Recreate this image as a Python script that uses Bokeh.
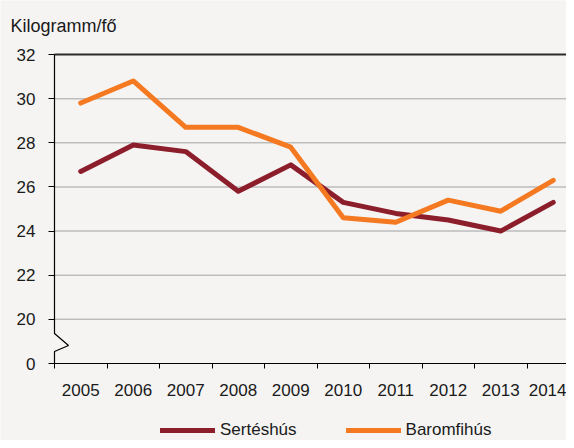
from bokeh.plotting import figure
from bokeh.models import (Range1d, FixedTicker, Label, Legend, LegendItem,
                          ColumnDataSource)
from bokeh.embed import file_html
from bokeh.resources import INLINE

years = ["2005", "2006", "2007", "2008", "2009", "2010", "2011", "2012", "2013", "2014"]
sertes = [26.7, 27.9, 27.6, 25.8, 27.0, 25.3, 24.8, 24.5, 24.0, 25.3]
baromfi = [29.8, 30.8, 28.7, 28.7, 27.8, 24.6, 24.4, 25.4, 24.9, 26.3]
y_ticks = [18, 20, 22, 24, 26, 28, 30, 32]
y_tick_labels = ["0", "20", "22", "24", "26", "28", "30", "32"]
y_title = "Kilogramm/fő"
series_names = ["Sertéshús", "Baromfihús"]

BG = "#f5f4f2"
FONT = "Liberation Sans"
DARK = "#8c1d2b"
ORANGE = "#f47920"

# layout in pixels (figure-relative)
W, H = 566, 440
LEFT, TOP, AXIS_PX = 54, 54, 363
PX_PER_CAT = 52.5
Y_MIN_SHOWN, Y_MAX = 18, 32
py = (AXIS_PX - TOP) / (Y_MAX - Y_MIN_SHOWN)

X_END = (W - LEFT) / PX_PER_CAT
x_start = -LEFT / PX_PER_CAT
y_top = Y_MAX + TOP / py
y_bot = Y_MIN_SHOWN - (H - AXIS_PX) / py

def dx(px):
    return (px - LEFT) / PX_PER_CAT

def dy(px):
    return Y_MAX - (px - TOP) / py

xpos = [i + 0.5 for i in range(len(years))]
src = ColumnDataSource(dict(x=xpos, s=sertes, b=baromfi))

p = figure(width=W, height=H, output_backend="svg", toolbar_location=None,
           x_range=Range1d(x_start, X_END), y_range=Range1d(y_bot, y_top),
           min_border=0, min_border_left=0, min_border_right=0,
           min_border_top=0, min_border_bottom=0,
           background_fill_color=BG, border_fill_color=BG,
           outline_line_color=None)

p.xgrid.visible = False
p.ygrid.visible = False

# horizontal grid lines (only over the plot area) and dark top line
grid_vals = [t for t in y_ticks if Y_MIN_SHOWN < t < Y_MAX]
p.segment(x0=[0] * len(grid_vals), x1=[X_END] * len(grid_vals),
          y0=grid_vals, y1=grid_vals, line_color="#bdbdbd", line_width=1.5)
p.segment(x0=[0], x1=[X_END], y0=[Y_MAX], y1=[Y_MAX],
          line_color="#2b2b2b", line_width=2)

# x axis at the broken zero
xa = p.xaxis[0]
xa.fixed_location = Y_MIN_SHOWN
xa.bounds = (0, X_END)
xa.ticker = FixedTicker(ticks=xpos, minor_ticks=list(range(len(years))))
xa.major_label_overrides = {x: y for x, y in zip(xpos, years)}
xa.major_tick_out = 0
xa.major_tick_in = 0
xa.minor_tick_out = 5
xa.minor_tick_in = 0
xa.minor_tick_line_color = "#000000"
xa.axis_line_color = "#000000"
xa.axis_line_width = 1.2
xa.major_label_text_font = FONT
xa.major_label_text_font_size = "17px"
xa.major_label_text_color = "#1a1a1a"
xa.major_label_standoff = 15

# y axis
ya = p.yaxis[0]
ya.fixed_location = 0
ya.bounds = (Y_MIN_SHOWN, Y_MAX)
ya.ticker = FixedTicker(ticks=y_ticks)
ya.major_label_overrides = {t: l for t, l in zip(y_ticks, y_tick_labels)}
ya.axis_line_color = None
ya.major_tick_out = 6
ya.major_tick_in = 0
ya.minor_tick_line_color = None
ya.major_tick_line_color = "#000000"
ya.major_label_text_font = FONT
ya.major_label_text_font_size = "17px"
ya.major_label_text_color = "#1a1a1a"
ya.major_label_standoff = 13

# y axis line with break symbol
p.line(x=[0, 0, dx(68), 0, 0], y=[Y_MAX, dy(333), dy(345), dy(351), Y_MIN_SHOWN],
       line_color="#000000", line_width=1.2)

r1 = p.line("x", "s", source=src, line_color=DARK, line_width=5,
            line_cap="round", line_join="round")
r2 = p.line("x", "b", source=src, line_color=ORANGE, line_width=5,
            line_cap="round", line_join="round")

p.add_layout(Label(x=dx(10), y=dy(25), text=y_title, text_font=FONT,
                   text_font_size="18px", text_baseline="alphabetic",
                   text_color="#1a1a1a"))

legend = Legend(items=[LegendItem(label=series_names[0], renderers=[r1]),
                       LegendItem(label=series_names[1], renderers=[r2])],
                location=(160, 0), orientation="horizontal",
                background_fill_alpha=0, border_line_color=None,
                padding=0, margin=0, spacing=49, glyph_width=55,
                glyph_height=20, label_height=20, label_standoff=5,
                label_text_font=FONT, label_text_font_size="17px",
                label_text_color="#1a1a1a")
p.add_layout(legend)

open("out.html", "w").write(file_html(p, INLINE))
